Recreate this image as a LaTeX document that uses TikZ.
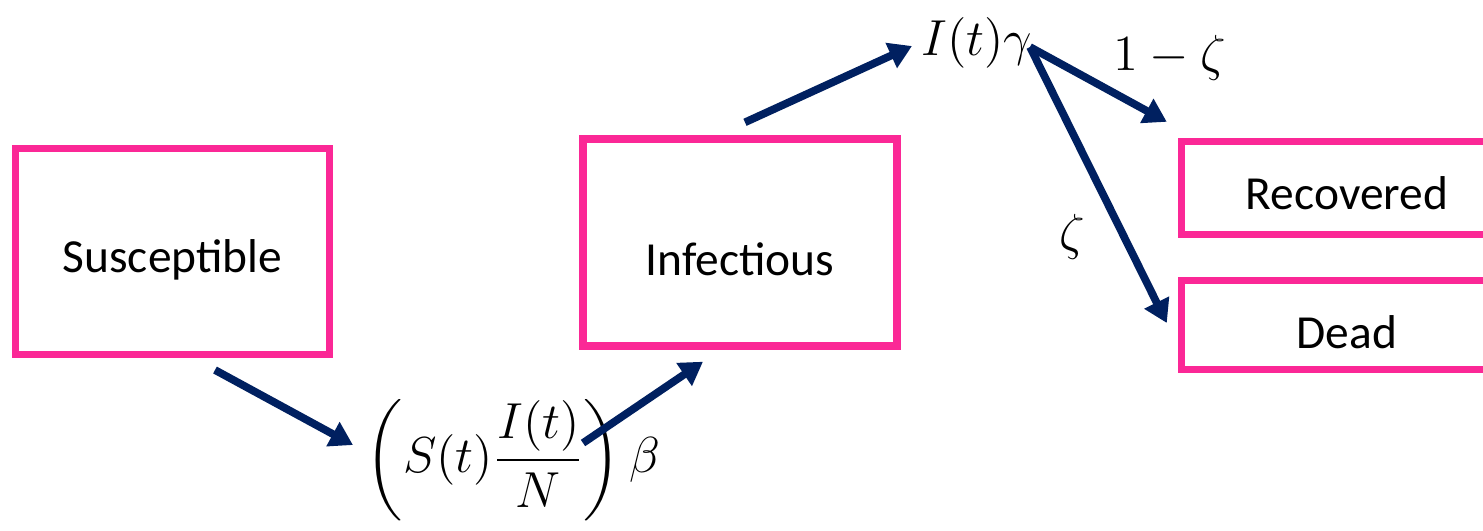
\documentclass[tikz,border=0pt]{standalone}
\usepackage{amsmath}
\usepackage{fontspec}
\setmainfont{Carlito}
\usetikzlibrary{positioning,arrows.meta}
\definecolor{navy}{HTML}{002060}
\definecolor{rose}{HTML}{FB2896}

\begin{document}
\begin{tikzpicture}[
  >={Triangle[length=6.5pt,width=7.5pt]},
  comp/.style={draw=rose, fill=white, line width=2.1pt,
               rectangle, inner sep=0pt, align=center,
               text height=0.52cm, text depth=0.1cm,
               font=\fontsize{13.5}{16}\selectfont},
  flow/.style={->, line width=2.2pt, draw=navy},
  lab/.style={font=\fontsize{14}{17}\selectfont, inner sep=1pt},
]
\useasboundingbox (0,0) rectangle (14.83,-5.30);

% compartments
\node[comp, minimum width=3.14cm, minimum height=2.06cm] (sus) at (1.725,-2.515) {Susceptible};
\node[comp, minimum width=3.14cm, minimum height=2.07cm, text height=0.75cm] (inf) at (7.40,-2.425) {Infectious};
\node[comp, minimum width=3.31cm, minimum height=0.93cm] (rec) at (13.47,-1.88) {Recovered};
\node[comp, minimum width=3.31cm, minimum height=0.89cm, text height=0.56cm] (dead) at (13.47,-3.25) {Dead};

% rates
\node[lab] (rate) at (5.13,-4.60) {$\left(S(t)\dfrac{I(t)}{N}\right)\beta$};
\node[lab] (gam) at (9.77,-0.43) {$I(t)\gamma$};
\node[lab] (split) at (11.70,-0.58) {$1-\zeta$};
\node[lab] (dfrac) at (10.72,-2.37) {$\zeta$};

\draw[flow] ([shift={(0.425,-1.185)}]sus.center) -- ([shift={(-1.60,0.15)}]rate.center);
\draw[flow] ([shift={(0.70,0.17)}]rate.center) -- ([shift={(-0.37,-0.12)}]inf.south);
\draw[flow] ([shift={(0.05,0.13)}]inf.north) -- ([shift={(-0.65,-0.03)}]gam.center);
\draw[flow] ([shift={(0.53,-0.04)}]gam.center) -- ([shift={(-0.11,0.16)}]rec.north west);
\draw[flow] ([shift={(0.53,-0.04)}]gam.center) -- ([shift={(-0.11,0.02)}]dead.west);
\end{tikzpicture}
\end{document}
